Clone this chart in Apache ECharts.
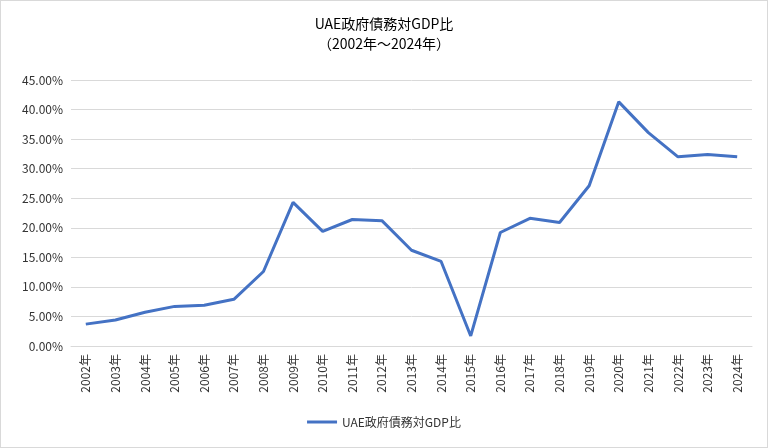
<!DOCTYPE html>
<html>
<head>
<meta charset="utf-8">
<script src="https://cdn.jsdelivr.net/npm/echarts@6/dist/echarts.min.js"></script>
<style>
  html, body { margin: 0; padding: 0; background: #fff; }
  #main { width: 766px; height: 446px; border: 1px solid #d9d9d9; }
</style>
</head>
<body>
<div id="main"></div>
<script>
  const years = ['2002年', '2003年', '2004年', '2005年', '2006年', '2007年', '2008年', '2009年',
    '2010年', '2011年', '2012年', '2013年', '2014年', '2015年', '2016年', '2017年', '2018年',
    '2019年', '2020年', '2021年', '2022年', '2023年', '2024年'];
  // percent of GDP
  const debtRatio = [3.7, 4.4, 5.7, 6.7, 6.9, 7.9, 12.6, 24.3, 19.4, 21.4, 21.2, 16.2, 14.3,
    1.7, 19.2, 21.6, 20.9, 27.1, 41.3, 36.1, 32.0, 32.4, 32.0];
  const seriesName = 'UAE政府債務対GDP比';

  const chart = echarts.init(document.getElementById('main'));
  chart.setOption({
    animation: false,
    textStyle: { fontFamily: 'Noto Sans CJK JP' },
    title: {
      text: 'UAE政府債務対GDP比\n（2002年～2024年）',
      left: 'center',
      top: 8,
      textStyle: { fontSize: 14, fontWeight: 'normal', color: '#000', lineHeight: 20 }
    },
    legend: {
      bottom: 14,
      left: 'center',
      icon: 'path://M0,0H30V3H0Z',
      itemWidth: 30,
      itemHeight: 3,
      textStyle: { fontSize: 12, color: '#333' },
      data: [seriesName]
    },
    grid: { left: 70, right: 15, top: 79, bottom: 101 },
    xAxis: {
      type: 'category',
      data: years,
      boundaryGap: true,
      axisLine: { lineStyle: { color: '#d9d9d9' } },
      axisTick: { show: false },
      axisLabel: { rotate: 90, color: '#333', fontSize: 12, interval: 0 }
    },
    yAxis: {
      type: 'value',
      min: 0,
      max: 45,
      interval: 5,
      axisLine: { show: false },
      axisTick: { show: false },
      splitLine: { lineStyle: { color: '#d9d9d9' } },
      axisLabel: { color: '#333', fontSize: 12, formatter: v => v.toFixed(2) + '%' }
    },
    series: [{
      name: seriesName,
      type: 'line',
      data: debtRatio,
      symbol: 'none',
      lineStyle: { color: '#4472c4', width: 3 },
      itemStyle: { color: '#4472c4' }
    }]
  });
</script>
</body>
</html>
